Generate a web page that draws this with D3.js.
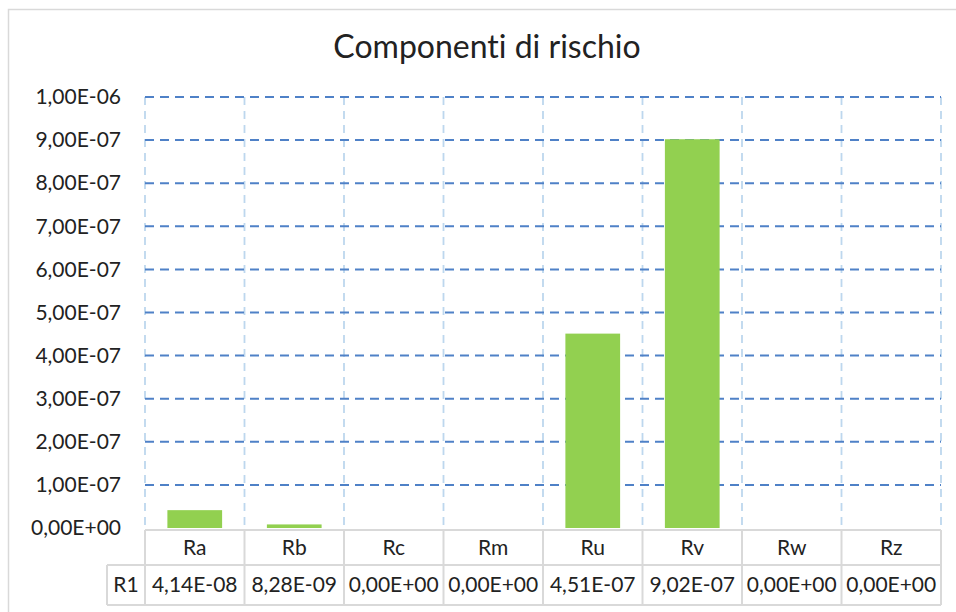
<!DOCTYPE html>
<html>
<head>
<meta charset="utf-8">
<script src="https://cdn.jsdelivr.net/npm/d3@7"></script>
<style>
  html, body { margin: 0; padding: 0; background: #fff; }
  svg { display: block; }
  text { font-family: Lato, "Open Sans", sans-serif; fill: #222; font-variant-ligatures: none; }
</style>
</head>
<body>
<svg id="chart" width="956" height="612"></svg>
<script>
// Risk components
const categories = ["Ra", "Rb", "Rc", "Rm", "Ru", "Rv", "Rw", "Rz"];
const seriesName = "R1";
const values = [4.14e-8, 8.28e-9, 0, 0, 4.51e-7, 9.02e-7, 0, 0];
const valueLabels = ["4,14E-08", "8,28E-09", "0,00E+00", "0,00E+00", "4,51E-07", "9,02E-07", "0,00E+00", "0,00E+00"];
const yTicks = [0, 1e-7, 2e-7, 3e-7, 4e-7, 5e-7, 6e-7, 7e-7, 8e-7, 9e-7, 1e-6];
const title = "Componenti di rischio";

const svg = d3.select("#chart");
const W = 956, H = 612;
const plot = { left: 145, right: 941, top: 97, bottom: 528 };
const fontSize = 21;

// Chart frame
svg.append("rect")
  .attr("x", 8.5).attr("y", 9.5)
  .attr("width", W).attr("height", H)
  .attr("fill", "#fff").attr("stroke", "#d9d9d9").attr("stroke-width", 1.5);

// Title
svg.append("text")
  .attr("x", 487).attr("y", 58)
  .attr("text-anchor", "middle")
  .attr("font-size", 32)
  .text(title);

const x = d3.scaleBand()
  .domain(categories)
  .range([plot.left, plot.right])
  .paddingInner(0.45)
  .paddingOuter(0.225);

const y = d3.scaleLinear()
  .domain([0, 1e-6])
  .range([plot.bottom, plot.top]);

const step = x.step();
const cellEdges = d3.range(categories.length + 1).map(i => plot.left + i * step);

// Vertical gridlines (category boundaries)
svg.append("g").selectAll("line")
  .data(cellEdges)
  .join("line")
  .attr("x1", d => d).attr("x2", d => d)
  .attr("y1", plot.top).attr("y2", plot.bottom)
  .attr("stroke", "#bdd7ee")
  .attr("stroke-width", 1.8)
  .attr("stroke-dasharray", "8,6");

// Horizontal gridlines
svg.append("g").selectAll("line")
  .data(yTicks.filter(t => t > 0))
  .join("line")
  .attr("x1", plot.left).attr("x2", plot.right)
  .attr("y1", d => y(d)).attr("y2", d => y(d))
  .attr("stroke", "#4f81c7")
  .attr("stroke-width", 2)
  .attr("stroke-dasharray", "9,6");

// Y axis labels
const fmt = d => d3.format(".2e")(d).replace(".", ",").replace(/e([+-])(\d)$/, "E$10$2").replace(/e/, "E");
const yAxis = d3.axisLeft(y)
  .tickValues(yTicks)
  .tickSize(0)
  .tickPadding(0)
  .tickFormat(fmt);
const gy = svg.append("g")
  .attr("transform", `translate(${121},0)`)
  .call(yAxis);
gy.select(".domain").remove();
gy.selectAll("text")
  .attr("font-size", fontSize)
  .attr("font-family", "Lato, 'Open Sans', sans-serif")
  .attr("fill", "#222");

// Bars
svg.append("g").selectAll("rect")
  .data(values)
  .join("rect")
  .attr("x", (d, i) => x(categories[i]))
  .attr("width", x.bandwidth())
  .attr("y", d => y(d))
  .attr("height", d => y(0) - y(d))
  .attr("fill", "#92d050");

// Data table
const rowTop = 530, rowMid = 565, rowBot = 605, labelLeft = 107;
const table = svg.append("g");
const border = { stroke: "#d9d9d9", width: 2 };

// horizontal rules
[[plot.left, plot.right, rowTop], [labelLeft, plot.right, rowMid], [labelLeft, plot.right, rowBot]]
  .forEach(([x1, x2, yy]) => table.append("line")
    .attr("x1", x1).attr("x2", x2).attr("y1", yy).attr("y2", yy)
    .attr("stroke", border.stroke).attr("stroke-width", border.width));

// vertical rules
table.selectAll("line.v")
  .data(cellEdges)
  .join("line")
  .attr("class", "v")
  .attr("x1", d => d).attr("x2", d => d)
  .attr("y1", rowTop).attr("y2", rowBot)
  .attr("stroke", border.stroke).attr("stroke-width", border.width);
table.append("line")
  .attr("x1", labelLeft).attr("x2", labelLeft)
  .attr("y1", rowMid).attr("y2", rowBot)
  .attr("stroke", border.stroke).attr("stroke-width", border.width);

// header labels
table.selectAll("text.cat")
  .data(categories)
  .join("text")
  .attr("class", "cat")
  .attr("x", d => x(d) + x.bandwidth() / 2)
  .attr("y", (rowTop + rowMid) / 2)
  .attr("dy", "0.35em")
  .attr("text-anchor", "middle")
  .attr("font-size", fontSize)
  .text(d => d);

// series name
table.append("text")
  .attr("x", (labelLeft + plot.left) / 2)
  .attr("y", (rowMid + rowBot) / 2)
  .attr("dy", "0.35em")
  .attr("text-anchor", "middle")
  .attr("font-size", fontSize)
  .text(seriesName);

// values
table.selectAll("text.val")
  .data(valueLabels)
  .join("text")
  .attr("class", "val")
  .attr("x", (d, i) => x(categories[i]) + x.bandwidth() / 2)
  .attr("y", (rowMid + rowBot) / 2)
  .attr("dy", "0.35em")
  .attr("text-anchor", "middle")
  .attr("font-size", fontSize)
  .text(d => d);
</script>
</body>
</html>
